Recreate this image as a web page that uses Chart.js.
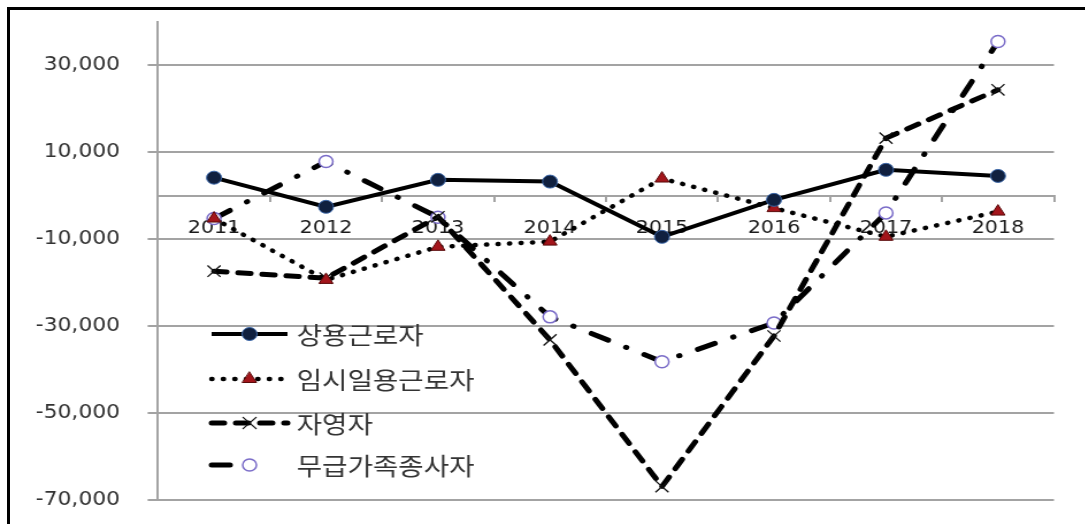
<!DOCTYPE html>
<html>
<head>
<meta charset="utf-8">
<script src="https://cdn.jsdelivr.net/npm/chart.js@4.4.1/dist/chart.umd.min.js"></script>
<style>
  html, body { margin: 0; padding: 0; background: #fff; overflow: hidden; }
  /* the source picture is stretched sideways, so the canvas is too */
  #stretch { position: absolute; left: 0; top: 0; width: 944px; height: 524px; transform: scaleX(1.15); transform-origin: 0 0; }
  #frame { position: absolute; left: 7px; top: 7px; width: 1200px; height: 700px; border-top: 3px solid #000; border-left: 3px solid #000; pointer-events: none; }
</style>
</head>
<body>
<div id="stretch"><canvas id="graph" width="944" height="524"></canvas></div>
<div id="frame"></div>
<script>
const years = ['2011', '2012', '2013', '2014', '2015', '2016', '2017', '2018'];
const regular = [4100, -2600, 3600, 3200, -9500, -1000, 5900, 4500];
const temporary = [-5300, -19400, -11800, -10600, 3900, -2900, -9500, -3700];
const selfEmployed = [-17400, -19000, -4900, -33200, -66900, -32300, 13200, 24300];
const unpaidFamily = [-5300, 7800, -5000, -27900, -38200, -29300, -4000, 35400];
const yTicks = [-70000, -50000, -30000, -10000, 10000, 30000];

const gridGray = '#a3a3a3';
const legendRows = [334, 379, 423, 465];

// legend sits inside the plot area, lower left
const insideLegend = {
    id: 'insideLegend',
    afterDatasetsDraw(chart) {
        const c = chart.ctx;
        chart.data.datasets.forEach((ds, i) => {
            const y = legendRows[i];
            c.save();
            c.strokeStyle = ds.borderColor;
            c.lineWidth = ds.borderWidth;
            c.lineCap = ds.borderCapStyle || 'butt';
            c.setLineDash(ds.borderDash || []);
            c.beginPath();
            c.moveTo(184, y);
            c.lineTo(i === 3 ? 232 : 250, y);
            c.stroke();
            c.setLineDash([]);
            c.fillStyle = ds.pointBackgroundColor;
            c.strokeStyle = ds.pointBorderColor;
            c.lineWidth = ds.pointBorderWidth;
            Chart.helpers.drawPoint(c, {
                pointStyle: ds.pointStyle,
                radius: ds.pointRadius,
                rotation: 0,
                borderWidth: ds.pointBorderWidth
            }, 217, y);
            c.fillStyle = '#333';
            c.font = '24px "Noto Sans CJK KR"';
            c.textBaseline = 'middle';
            c.textAlign = 'left';
            c.fillText(ds.label, 258, y + 1);
            c.restore();
        });
    }
};

const ct1 = document.getElementById('graph').getContext('2d');
const myChart = new Chart(ct1, {
    type: 'line',
    data: {
        labels: years,
        datasets: [{
            label: '상용근로자',
            data: regular,
            borderColor: '#000',
            borderWidth: 4,
            pointStyle: 'circle',
            pointRadius: 6.5,
            pointBackgroundColor: '#10203f',
            pointBorderColor: '#3a66a8',
            pointBorderWidth: 1
        }, {
            label: '임시일용근로자',
            data: temporary,
            borderColor: '#000',
            borderWidth: 4.5,
            borderCapStyle: 'round',
            borderDash: [0.5, 9.5],
            pointStyle: 'triangle',
            pointRadius: 7,
            pointBackgroundColor: '#a3151b',
            pointBorderColor: '#5a0a0a',
            pointBorderWidth: 1
        }, {
            label: '자영자',
            data: selfEmployed,
            borderColor: '#000',
            borderWidth: 5,
            borderCapStyle: 'round',
            borderDash: [11, 10],
            pointStyle: 'crossRot',
            pointRadius: 8,
            pointBackgroundColor: '#000',
            pointBorderColor: '#111',
            pointBorderWidth: 1.3
        }, {
            label: '무급가족종사자',
            data: unpaidFamily,
            borderColor: '#000',
            borderWidth: 5,
            borderCapStyle: 'round',
            borderDash: [16, 17, 0.5, 17],
            pointStyle: 'circle',
            pointRadius: 6,
            pointBackgroundColor: '#fff',
            pointBorderColor: '#7a6cc8',
            pointBorderWidth: 1.5
        }]
    },
    options: {
        responsive: false,
        animation: false,
        events: [],
        layout: {
            padding: { left: 0, right: 27.5, top: 21.5, bottom: 24 }
        },
        plugins: {
            legend: { display: false },
            tooltip: { enabled: false }
        },
        elements: {
            line: { tension: 0, fill: false }
        },
        scales: {
            x: {
                position: { y: 0 },
                offset: true,
                grid: {
                    offset: true,
                    drawOnChartArea: false,
                    drawTicks: true,
                    tickLength: 5,
                    color: gridGray,
                    lineWidth: 2
                },
                border: { display: true, color: gridGray, width: 2 },
                ticks: {
                    color: '#1a1a1a',
                    padding: 17.5,
                    maxRotation: 0,
                    autoSkip: false,
                    font: { family: 'DejaVu Sans', size: 18 }
                },
                afterFit: (scale) => { scale.height = 0; }
            },
            y: {
                min: -70000,
                max: 40000,
                grid: {
                    color: gridGray,
                    lineWidth: 2,
                    drawTicks: true,
                    tickLength: 9
                },
                border: { display: true, color: gridGray, width: 2 },
                ticks: {
                    color: '#333',
                    padding: 24,
                    font: { family: 'DejaVu Sans', size: 19 },
                    callback: (v) => v.toLocaleString('en-US')
                },
                afterBuildTicks: (scale) => {
                    scale.ticks = yTicks.map(v => ({ value: v }));
                },
                afterFit: (scale) => {
                    scale.width = 137.4;
                    scale.paddingTop = 0;
                    scale.paddingBottom = 0;
                }
            }
        }
    },
    plugins: [insideLegend]
});
</script>
</body>
</html>
